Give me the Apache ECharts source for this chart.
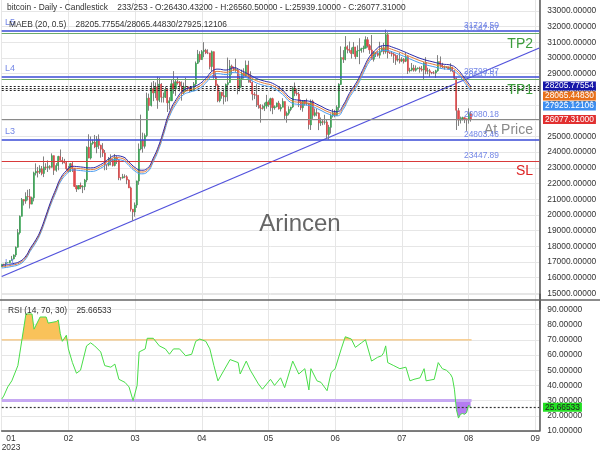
<!DOCTYPE html>
<html><head><meta charset="utf-8">
<script src="https://cdn.jsdelivr.net/npm/echarts@6/dist/echarts.min.js"></script>
<style>html,body{margin:0;padding:0;background:#fff}#c{width:600px;height:450px}</style>
</head><body><div id="c"></div>
<script>
const FONT = "'Liberation Sans',Arial,sans-serif";
const FS = 8.4;
// day index counted from 2023-01-01 = 0; first bar = 2023-01-04
const firstDay = 3;
const xTickLabels = ['01','02','03','04','05','06','07','08','09'];
const yearLabel = '2023';

const opens = [16680,16863,16836,16951,16955,17093,17196,17446,17943,18869,19910,20977,20882,21175,21161,20687,21085,22666,22777,22721,22932,22640,23055,23015,23075,23031,23775,22840,
23138,23721,23471,23431,23326,22933,22757,23264,22947,21820,21652,21870,21787,21802,22221,24308,23622,24565,24640,24336,24833,24437,24190,23946,23200,23174,23554,23491,
23150,23647,23476,22362,22354,22436,22428,22217,21721,20367,20188,20628,22157,24201,24770,24373,25055,27449,26969,28042,27768,28158,27301,28325,27487,27495,27994,27132,27265,28350,28032,
28473,28462,28184,27795,28170,28175,28038,27926,27952,28337,29653,30226,29892,30409,30490,30315,30317,29449,30395,28823,28249,27265,27817,27592,27514,28300,28429,29481,29335,29245,
29227,28088,28676,29027,28846,29538,28902,28451,27695,27655,27622,26987,26808,26789,26932,27172,27035,27401,26827,26889,27118,26749,26856,27224,26329,26474,26721,26871,28075,27746,27700,
27218,26824,27252,27075,27123,25732,27235,26342,26505,26481,25854,25935,25903,25920,25121,25575,26328,26510,26335,26841,28311,30016,29896,30708,30545,30480,30274,30697,30086,30441,
30471,30588,30624,31156,30774,30508,29907,30346,30292,30172,30417,30623,30388,31474,30331,30297,30249,30147,29862,29916,29805,29909,29790,30081,29179,29225,29353,29212,29319,29357,29279,
29230,29705,29161,29175,29075,29043,29038,29180,29766,29563,29424,29400,29416,29284,29408,29170,28701,26636,26047,26096,26188,26125,26052,26430.432];
const closes = [16863,16836,16951,16955,17091,17196,17446,17934,18869,19910,20977,20880,21170,21162,20688,21086,22676,22777,22721,22934,22637,23055,23016,23075,23031,23775,22840,23139,
23723,23472,23432,23327,22932,22762,23264,22939,21819,21651,21871,21788,21808,22221,24308,23623,24565,24641,24327,24829,24436,24188,23947,23198,23175,23555,23492,23147,
23646,23475,22362,22354,22435,22429,22219,21718,20363,20187,20632,22163,24197,24746,24375,25052,27423,26965,28038,27767,28175,27307,28333,27493,27494,27994,27139,27268,28348,28033,28478,
28411,28199,27790,28168,28177,28044,27925,27947,28333,29653,30235,29892,30399,30485,30318,30315,29445,30397,28822,28245,27276,27817,27591,27525,28307,28423,29473,29340,29248,29268,
28091,28680,29006,28847,29534,28904,28454,27694,27658,27621,27000,26804,26785,26930,27192,27036,27398,26832,26890,27129,26753,26851,27225,26334,26476,26719,26868,28085,27745,27702,27219,
26819,27249,27075,27119,25760,27238,26345,26508,26480,25851,25940,25902,25918,25124,25576,26327,26510,26336,26851,28327,30027,29912,30695,30548,30480,30271,30688,30086,30445,30477,
30590,30620,31156,30777,30514,29909,30346,30292,30171,30414,30620,30391,31476,30334,30295,30249,30145,29856,29913,29792,29908,29771,30083,29176,29227,29354,29210,29319,29357,29275,29230,
29675,29151,29178,29074,29042,29041,29180,29765,29561,29429,29397,29415,29283,29408,29170,28701,26664,26049,26096,26189,26124,26057,26432,26077.31];
const highs = [16964,16884,16991,16975,17091,17389,17484,17992,19097,19964,21075,21000,21439,21600,21650,21163,22754,23282,23056,23165,23114,23722,23290,23472,23166,23919,23789,23296,
23765,24167,23682,23571,23420,23119,23310,23368,22980,21896,21892,22060,21892,22293,24367,25134,24993,24800,25093,25020,25126,24472,24572,24133,23212,23689,23857,23589,
23880,23740,23479,22405,22613,22584,22527,22268,21802,20370,20792,22185,24550,26386,25240,25190,27787,27725,28440,28528,28439,28803,28729,28392,27791,28167,28045,27494,28619,29159,28639,
28802,28529,28500,28434,28739,28178,28111,28154,28462,29771,30509,30423,30500,31005,30579,30547,30319,30470,30411,29076,28349,27872,27820,28000,28371,30020,29871,29572,29448,29952,
29329,28880,29259,29339,29837,29819,29148,28505,27821,28323,27622,27051,27030,27150,27646,27299,27465,27466,26978,27155,27265,27045,27434,27224,26590,26917,26888,28193,28432,28045,27831,
27346,27303,27317,27407,27129,27355,27333,26780,26770,26531,26203,26072,26376,26074,25735,26463,26748,26693,26984,28388,30737,30495,31389,30805,31041,30662,31006,30703,30796,31256,
30649,30776,31375,31325,30877,31460,30434,30379,30427,31027,30788,30959,31804,31630,30401,30437,30337,30233,30184,30340,30045,29987,30330,30099,29371,29676,29560,29521,29396,29443,29489,
29733,30047,29375,29302,29102,29160,29244,30176,30093,29688,29517,29465,29441,29660,29439,29221,28745,26808,26260,26253,26220,26135,26787,26560.5];
const lows = [16660,16791,16713,16914,16925,17093,17162,17320,17912,18752,19898,20600,20710,20923,20408,20671,20861,22512,22387,22607,22522,22409,22857,22732,22880,23012,22547,22747,
22840,23460,23229,23278,22845,22692,22756,22731,21773,21462,21618,21642,21388,21576,22082,23603,23529,24471,24250,23927,24200,23644,23693,22841,22857,23089,23155,23078,
23088,23245,22213,22198,22307,22340,21957,21708,20210,19629,19890,20448,21918,24110,23964,24225,24955,26636,26907,27243,27439,26760,27183,27160,27157,27445,26553,26702,27259,27720,27583,
28297,27870,27276,27675,27843,27884,27794,27877,27884,28189,29609,29721,29878,30044,30238,30240,29275,29154,28669,28037,27177,27169,27400,27039,27207,27235,28402,28929,29170,29111,
27680,27873,28132,28681,28790,28421,28402,27296,27375,26873,26766,25874,26710,26613,26766,26878,26601,26415,26698,26843,26706,26586,26853,26087,25872,26343,26604,26803,27563,27589,26867,
26671,26574,26958,26969,25445,25409,26115,26258,26286,25400,25668,25716,25749,24852,24797,25176,26206,26214,26312,26639,28283,29679,29846,30290,30327,29955,30236,29919,30058,29600,
30330,30348,30587,30659,30257,29892,29767,30053,30085,29979,30358,30228,30268,29966,30250,30089,29685,29556,29763,29644,29733,29640,29730,28974,29069,29147,29125,29125,29268,29059,29131,
28585,28958,28959,28800,28957,28963,28724,29113,29376,29354,29253,29357,29265,29125,29088,28650,25409,25668,25822,26011,25846,25350,25812,25939.1];

// MAEB (20, 0.5)
const maDays = [3,8,12,15,17,20,22,25,27,30,32,35,38,42,47,52,56,59,63,66,69,72,75,78,81,83,86,90,93,96,100,104,107,110,114,118,121,126,129,133,137,142,146,150,155,160,165,169,172,175,179,182,185,188,190,193,197,202,206,211,216,221,225,228,231,233,235];
const maMid = [16700,16800,16950,17300,17750,18350,18850,19900,20650,21600,22200,22700,22980,22940,22880,23090,23450,23650,23580,23250,22900,22730,22840,23500,24400,25200,26400,27350,27800,27960,28130,28550,29000,29140,29080,29230,29080,28760,28550,28380,28240,27810,27300,27170,27110,26850,26540,26440,26860,27600,28400,29190,29930,30350,30570,30630,30500,30250,30030,29780,29610,29460,29400,29190,28750,28400,28065.4483];
const maUpper = [16784,16884,17035,17387,17839,18442,18944,20000,20753,21708,22311,22814,23095,23055,22994,23205,23567,23768,23698,23366,23015,22844,22954,23618,24522,25326,26532,27487,27939,28100,28271,28693,29145,29286,29225,29376,29225,28904,28693,28522,28381,27949,27437,27306,27246,26984,26673,26572,26994,27738,28542,29336,30080,30502,30723,30783,30653,30401,30180,29929,29758,29607,29547,29336,28894,28542,28205.77554];
const maLower = [16617,16716,16865,17214,17661,18258,18756,19800,20547,21492,22089,22587,22865,22825,22766,22975,23333,23532,23462,23134,22786,22616,22726,23383,24278,25074,26268,27213,27661,27820,27989,28407,28855,28994,28935,29084,28935,28616,28407,28238,28099,27671,27164,27034,26974,26716,26407,26308,26726,27462,28258,29044,29780,30198,30417,30477,30348,30099,29880,29631,29462,29313,29253,29044,28606,28258,27925.12106];
const maebNow = [28205.77554, 28065.44830, 27925.12106];
const lastClose = 26077.31;

// RSI (14, 70, 30)
const rsiDays = [3,4,6,8,11,13,15,18,19,22,25,26,30,31,32,33,35,36,38,40,42,45,47,49,52,54,57,59,61,64,66,68,70,71,74,75,78,81,84,86,88,91,94,97,99,101,104,106,108,110,113,116,120,121,124,126,130,132,136,138,141,143,147,150,153,155,156,159,161,164,166,168,171,173,176,178,181,183,186,189,191,192,193,194,197,200,203,205,207,210,212,213,217,219,221,223,225,226,227,228,229,230,231,232,233,234,235];
const rsiVals = [31,33,39,43,53,70,87,87,77,85,85,81,82,83,74,69,73,64,55,48,50,66,68,66,62,53,52,54,44,42,39,30,40,62,64,71,71,66,64,60.5,64,64,59.5,60.5,69,70.5,69,64,53,43,50,57,55,47.5,56,50,41,37.5,44,40,45,38.5,56,47.5,51,37,51,43,42,36.5,48.5,51,64,72,70.5,65,68,70,56,58.5,59.5,61.5,66,55,53,51,52,43,44,45,51,43,44,55,51,50,47.5,45,37.5,24,18.5,21,21.5,21,22,27,25.66533];
const rsiNow = 25.66533;
const rsiUpper = 70, rsiLower = 30;

// horizontal levels
const levelValues = [31724.50, 31547.67, 28798.97, 28641.51, 26080.18, 24803.46, 23447.89];
const levelColors = ['#3a4bd6','#6aaa6a','#3a4bd6','#6aaa6a','#8a8a8a','#3a4bd6','#d83a3a'];
const levelWidths = [1.6,1.2,1.6,1.2,1.2,1.6,1.2];
const levelTexts = ['31724.50','31547.67','28798.97','28641.51','26080.18','24803.46','23447.89'];
const levelTags = ['L5','','L4','','','L3',''];
const targetTags = ['','TP2','','TP1','At Price','','SL'];
const targetColors = ['','#3c9c3c','','#3c9c3c','#8a8a8a','','#dd2222'];
const l1Value = 16430;
// trend line (two anchor points)
const trendDays = [3, 269];
const trendPrices = [16075, 30630];

const X_MIN = 3, X_MAX = 269, X_STEP = 33;
const gridL = 1.7, gridR = 60.7;

const candleData = opens.map((o,i)=>[firstDay+i, o, closes[i], lows[i], highs[i]]);
const bodyData = opens.map((o,i)=>[firstDay+i, o, closes[i], Math.min(o,closes[i]), Math.max(o,closes[i])]);
const pair = (xs, ys) => xs.map((x,i)=>[x, ys[i]]);

function xAxisCfg(g, showLabels){
  return {gridIndex:g, type:'value', min:X_MIN, max:X_MAX, interval:X_STEP,
    axisLine:{show:showLabels, onZero:false, lineStyle:{color:'#555', width:1.5}},
    axisTick:{show:false},
    splitLine:{show: g<2, lineStyle:{color:'#e6e6e6'}},
    axisLabel:{show:showLabels, color:'#333', fontFamily:FONT, fontSize:FS, margin:3, lineHeight:9,
      alignMinLabel:'left',
      formatter: v => { const k=(v-X_MIN)/X_STEP; if (Math.abs(k-Math.round(k))>1e-6) return '';
        if (k===0) return '{a|'+xTickLabels[0]+'}\n{a|'+yearLabel+'}'; return xTickLabels[k]||''; },
      rich:{a:{align:'center', fontFamily:FONT, fontSize:FS, color:'#333', lineHeight:9}}
    }};
}
const gbase = {left:gridL, right:gridR, containLabel:false, outerBoundsMode:'none'};

const option = {
  animation:false,
  backgroundColor:'#fff',
  textStyle:{fontFamily:FONT},
  grid:[
    Object.assign({top:-4.9, height:314}, gbase),
    Object.assign({top:294.2, height:136.8}, gbase),
    Object.assign({top:294.2, height:45.6}, gbase),
    Object.assign({top:400.6, height:30.4}, gbase)
  ],
  xAxis:[xAxisCfg(0,false), xAxisCfg(1,true), xAxisCfg(2,false), xAxisCfg(3,false)],
  yAxis:[
    {gridIndex:0, type:'value', position:'right', min:14000, max:34000, interval:1000,
     axisLine:{show:true, lineStyle:{color:'#555', width:1.5}}, axisTick:{show:false},
     axisLabel:{color:'#333', fontFamily:FONT, fontSize:FS, margin:8, formatter: v => v===14000?'':v.toFixed(5)},
     splitLine:{lineStyle:{color:'#e6e6e6'}}},
    {gridIndex:1, type:'value', position:'right', min:10, max:100, interval:10,
     axisLine:{show:true, lineStyle:{color:'#555', width:1.5}}, axisTick:{show:false},
     axisLabel:{color:'#333', fontFamily:FONT, fontSize:FS, margin:8, formatter: v => v===100?'':v.toFixed(5)},
     splitLine:{lineStyle:{color:'#e6e6e6'}}},
    {gridIndex:2, type:'value', min:70, max:100, show:false},
    {gridIndex:3, type:'value', min:10, max:30, show:false}
  ],
  series:[
    {type:'line', xAxisIndex:0, yAxisIndex:0, data:pair(trendDays, trendPrices), symbol:'none', silent:true,
     lineStyle:{color:'#5252dc', width:1.3}, z:2,
     markLine:{silent:true, symbol:'none', label:{show:false}, animation:false,
       data: levelValues.map((v,i)=>({yAxis:v, lineStyle:{color:levelColors[i], width:levelWidths[i], type:'solid'}}))
         .concat(maebNow.map(v=>({yAxis:v, lineStyle:{color:'#222', width:1, type:[2,2]}})))}},
    {type:'candlestick', xAxisIndex:0, yAxisIndex:0, data:candleData, barWidth:0.8, z:3,
     itemStyle:{color:'rgba(0,0,0,0)', color0:'rgba(0,0,0,0)', borderColor:'#808080', borderColor0:'#808080', borderWidth:1}},
    {type:'candlestick', xAxisIndex:0, yAxisIndex:0, data:bodyData, barWidth:1.6, z:4,
     itemStyle:{color:'#3aa655', color0:'#e0484a', borderColor:'#3aa655', borderColor0:'#e0484a', borderWidth:0.6}},
    {type:'line', xAxisIndex:0, yAxisIndex:0, data:pair(maDays, maLower), smooth:0.5, symbol:'none', silent:true, lineStyle:{color:'#4a9cf0', width:1}, z:5},
    {type:'line', xAxisIndex:0, yAxisIndex:0, data:pair(maDays, maMid), smooth:0.5, symbol:'none', silent:true, lineStyle:{color:'#e07a3a', width:1}, z:5},
    {type:'line', xAxisIndex:0, yAxisIndex:0, data:pair(maDays, maUpper), smooth:0.5, symbol:'none', silent:true, lineStyle:{color:'#2a2aa8', width:1}, z:5},
    // RSI
    {type:'line', xAxisIndex:2, yAxisIndex:2, data:pair(rsiDays, rsiVals), symbol:'none', silent:true,
     lineStyle:{width:0, opacity:0}, areaStyle:{color:'#f9c25a', opacity:1, origin:'start'}, z:2},
    {type:'line', xAxisIndex:3, yAxisIndex:3, data:pair(rsiDays, rsiVals), symbol:'none', silent:true,
     lineStyle:{width:0, opacity:0}, areaStyle:{color:'#b57cf2', opacity:1, origin:'end'}, z:2},
    {type:'line', xAxisIndex:1, yAxisIndex:1, data:[[X_MIN,rsiUpper],[235.5,rsiUpper]], symbol:'none', silent:true, lineStyle:{color:'#f7c57c', width:1.2}, z:3},
    {type:'line', xAxisIndex:1, yAxisIndex:1, data:[[X_MIN,rsiLower],[235.5,rsiLower]], symbol:'none', silent:true, lineStyle:{color:'#c6a8f2', width:3}, z:3},
    {type:'line', xAxisIndex:1, yAxisIndex:1, data:pair(rsiDays, rsiVals), symbol:'none', silent:true,
     lineStyle:{color:'#48dd48', width:1}, z:6,
     markLine:{silent:true, symbol:'none', label:{show:false}, data:[{yAxis:rsiNow, lineStyle:{color:'#333', width:1.2, type:[2,2]}}]}}
  ]
};

const chart = echarts.init(document.getElementById('c'), null, {renderer:'canvas'});
chart.setOption(option);

const py = v => chart.convertToPixel({gridIndex:0}, [X_MIN, v])[1];
const ry = v => chart.convertToPixel({gridIndex:1}, [X_MIN, v])[1];
const fnt = (s) => s + 'px ' + FONT;
const txt = (x, y, text, fill, size, align) => ({type:'text', x, y, silent:true, z:100,
  style:{text, fill, font:fnt(size), align:align||'left', textAlign:align||'left', verticalAlign:'middle', textVerticalAlign:'middle'}});

const g = [];
g.push({type:'line', silent:true, z:90, shape:{x1:0, y1:300, x2:600, y2:300}, style:{stroke:'#666', lineWidth:1.5}});
levelValues.forEach((v,i)=>{
  const y = py(v);
  g.push(txt(464, y-5, levelTexts[i], '#7386e6', FS));
  if (levelTags[i]) g.push(txt(5, y-8, levelTags[i], '#7386e6', FS+0.6));
  if (targetTags[i]) g.push(txt(533, y+10.5, targetTags[i], targetColors[i], 14, 'right'));
});
g.push(txt(5, py(l1Value)-8, 'L1', '#7386e6', FS+0.6));
g.push(txt(7, 8, 'bitcoin - Daily - Candlestick    233/253 - O:26430.43200 - H:26560.50000 - L:25939.10000 - C:26077.31000', '#333', FS));
g.push(txt(9, 25, 'MAEB (20, 0.5)    ' + maebNow.map(v=>v.toFixed(5)).join('/'), '#333', FS));
g.push(txt(8, 311, 'RSI (14, 70, 30)    ' + rsiNow.toFixed(5), '#333', FS));
g.push({type:'text', x:300, y:224, silent:true, z:1,
  style:{text:'Arincen', fill:'rgba(85,85,85,0.9)', font:"24px 'Liberation Sans', Arial, sans-serif", align:'center', textAlign:'center', verticalAlign:'middle', textVerticalAlign:'middle'}});
// value badges on the price axis
const badgeVals = maebNow.concat([lastClose]);
const badgeColors = ['#1616a8','#e8701a','#3d8ef0','#e23030'];
let prev = -1e9;
badgeVals.forEach((v,i)=>{
  let y = py(v); if (y < prev + 10) y = prev + 10; prev = y;
  g.push({type:'text', x:543, y, silent:true, z:110,
    style:{text: v.toFixed(5), fill:'#fff', font:fnt(FS), backgroundColor:badgeColors[i], padding:[1,2,0,2],
      verticalAlign:'middle', textVerticalAlign:'middle'}});
});
g.push({type:'text', x:543, y:ry(rsiNow), silent:true, z:110,
  style:{text:rsiNow.toFixed(5), fill:'#222', font:fnt(FS), backgroundColor:'#22e022', padding:[1,2,0,2], verticalAlign:'middle', textVerticalAlign:'middle'}});
chart.setOption({graphic:g});
</script>
</body></html>
